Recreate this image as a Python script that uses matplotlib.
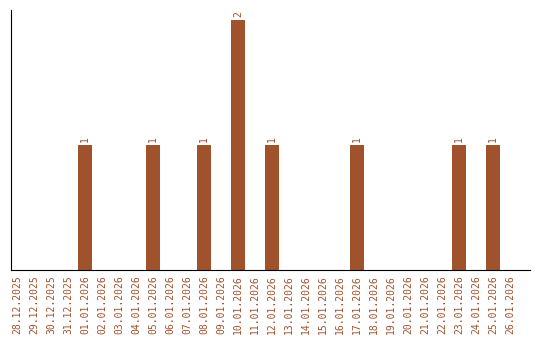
import matplotlib
matplotlib.use("Agg")
import matplotlib.pyplot as plt
import numpy as np

# ── Data ─────────────────────────────────────────────────────────────────────
dates = ["28.12.2025", "29.12.2025", "30.12.2025", "31.12.2025"] + \
        [f"{d:02d}.01.2026" for d in range(1, 27)]
counts = [0, 0, 0, 0,
          1, 0, 0, 0, 1, 0, 0, 1, 0, 2,
          0, 1, 0, 0, 0, 0, 1, 0, 0, 0,
          0, 0, 1, 0, 1, 0]

COLOR = "#A0522D"

# ── Plot ─────────────────────────────────────────────────────────────────────
fig = plt.figure(figsize=(5.4, 3.4), dpi=100)
ax = fig.add_axes([0.0204, 0.206, 0.9611, 0.7646])

x = np.arange(len(dates))
bars = ax.bar(x, counts, width=0.82, color=COLOR)

for xi, c in zip(x, counts):
    if c > 0:
        ax.text(xi, c + 0.02, str(c), rotation=90, ha="center", va="bottom",
                color=COLOR, fontsize=7, family="DejaVu Sans Mono")

ax.set_xlim(-0.35, 30.18)
ax.set_ylim(0, 2.08)
ax.set_xticks(x)
ax.set_xticklabels(dates, rotation=90, color=COLOR, fontsize=7,
                   family="DejaVu Sans Mono")
ax.tick_params(axis="x", length=0, pad=4)
ax.set_yticks([])
ax.spines["top"].set_visible(False)
ax.spines["right"].set_visible(False)

plt.savefig("out.png", dpi=100)
